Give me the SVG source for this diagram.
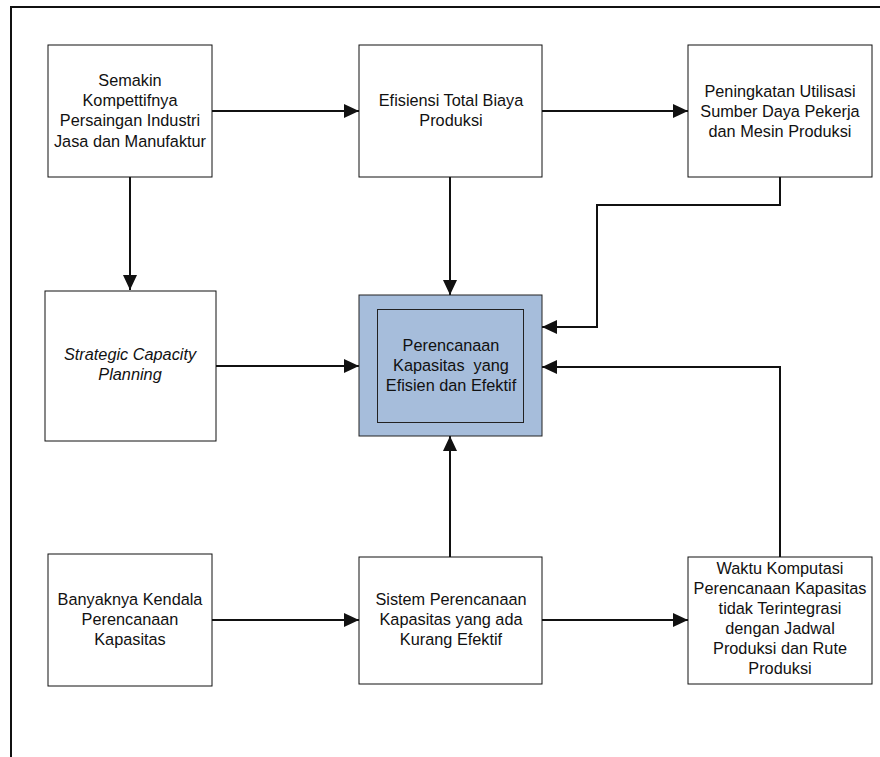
<svg xmlns="http://www.w3.org/2000/svg" width="880" height="757" viewBox="0 0 880 757">
<defs>
<marker id="ah" markerUnits="userSpaceOnUse" markerWidth="16" markerHeight="14" refX="15" refY="7" orient="auto">
<path d="M0,0 L15,7 L0,14 z" fill="#111"/>
</marker>
<style>
.box{fill:#fff;stroke:#111;stroke-width:1}
.blue{fill:#a6bddb;stroke:#222;stroke-width:1}
.t{font-family:"Liberation Sans",Arial,sans-serif;font-size:16.3px;fill:#111;text-anchor:middle}
.it{font-style:italic}
.c{fill:none;stroke:#111;stroke-width:2}
.frame{fill:none;stroke:#111;stroke-width:2}
</style>
</defs>
<rect width="880" height="757" fill="#fff"/>
<path class="frame" d="M11,757 V7 H880"/>

<g id="connectors">
<path class="c" d="M212,111 H359" marker-end="url(#ah)"/>
<path class="c" d="M542,111 H688" marker-end="url(#ah)"/>
<path class="c" d="M130,177 V290" marker-end="url(#ah)"/>
<path class="c" d="M450,177 V295" marker-end="url(#ah)"/>
<path class="c" d="M780,177 V205 H597 V327 H542" marker-end="url(#ah)"/>
<path class="c" d="M215,366 H359" marker-end="url(#ah)"/>
<path class="c" d="M780,557 V367 H542" marker-end="url(#ah)"/>
<path class="c" d="M450,557 V436" marker-end="url(#ah)"/>
<path class="c" d="M212,620 H359" marker-end="url(#ah)"/>
<path class="c" d="M542,620 H688" marker-end="url(#ah)"/>
</g>

<g id="n1">
<rect class="box" x="48" y="45" width="164" height="132"/>
<text class="t" x="130" y="86">Semakin</text>
<text class="t" x="130" y="106">Kompettifnya</text>
<text class="t" x="130" y="126">Persaingan Industri</text>
<text class="t" x="130" y="147">Jasa dan Manufaktur</text>
</g>
<g id="n2">
<rect class="box" x="359" y="45" width="183" height="132"/>
<text class="t" x="451" y="106">Efisiensi Total Biaya</text>
<text class="t" x="451" y="126">Produksi</text>
</g>
<g id="n3">
<rect class="box" x="688" y="45" width="184" height="132"/>
<text class="t" x="780" y="97">Peningkatan Utilisasi</text>
<text class="t" x="780" y="117">Sumber Daya Pekerja</text>
<text class="t" x="780" y="137">dan Mesin Produksi</text>
</g>
<g id="n4">
<rect class="box" x="45" y="291" width="171" height="150"/>
<text class="t it" x="130" y="360">Strategic Capacity</text>
<text class="t it" x="130" y="380">Planning</text>
</g>
<g id="n5">
<rect class="blue" x="359" y="295" width="183" height="141"/>
<rect class="blue" x="377.5" y="309.5" width="146" height="113"/>
<text class="t" x="451" y="351">Perencanaan</text>
<text class="t" x="451" y="371" xml:space="preserve">Kapasitas  yang</text>
<text class="t" x="451" y="391">Efisien dan Efektif</text>
</g>
<g id="n6">
<rect class="box" x="48" y="554" width="164" height="132"/>
<text class="t" x="130" y="605">Banyaknya Kendala</text>
<text class="t" x="130" y="625">Perencanaan</text>
<text class="t" x="130" y="645">Kapasitas</text>
</g>
<g id="n7">
<rect class="box" x="359" y="557" width="183" height="127"/>
<text class="t" x="451" y="605">Sistem Perencanaan</text>
<text class="t" x="451" y="625">Kapasitas yang ada</text>
<text class="t" x="451" y="645">Kurang Efektif</text>
</g>
<g id="n8">
<rect class="box" x="688" y="557" width="184" height="127"/>
<text class="t" x="780" y="574">Waktu Komputasi</text>
<text class="t" x="780" y="594">Perencanaan Kapasitas</text>
<text class="t" x="780" y="614">tidak Terintegrasi</text>
<text class="t" x="780" y="634">dengan Jadwal</text>
<text class="t" x="780" y="654">Produksi dan Rute</text>
<text class="t" x="780" y="674">Produksi</text>
</g>
</svg>
